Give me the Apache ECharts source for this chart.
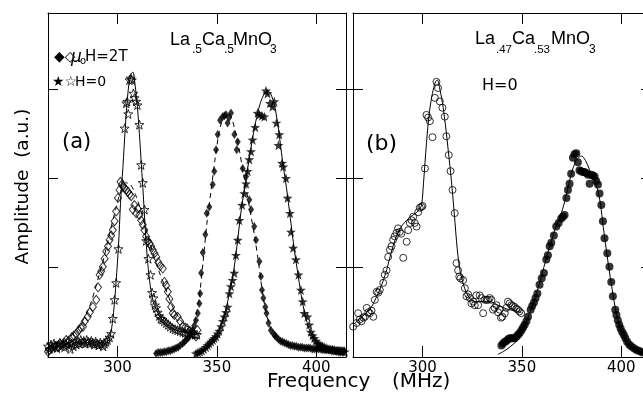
<!DOCTYPE html>
<html>
<head>
<meta charset="utf-8">
<script src="https://cdn.jsdelivr.net/npm/echarts@6.0.0/dist/echarts.min.js"></script>
<style>
  html, body { margin: 0; padding: 0; background: #fff; }
  #chart { width: 643px; height: 395px; }
</style>
</head>
<body>
<div id="chart"></div>
<script>
// tick positions
const xTicks = [300, 350, 400];
const yTicks = [1, 2, 3];

// ---- panel (a) La.5Ca.5MnO3 ----
// mu0 H = 2T, open diamonds (low line)
const diamondsOpen = [[265,0.06],[265.8,0.08],[267,0.10],[268.5,0.12],[270,0.11],[271.5,0.14],[273,0.16],[274.2,0.19],[275.5,0.18],[277,0.22],[278,0.24],[279.2,0.26],[280.5,0.30],[281.5,0.33],[282.6,0.34],[283.5,0.40],[285,0.45],[286,0.50],[287.6,0.56],[289.3,0.64],[290.2,0.78],[291,0.92],[291.8,0.96],[292.6,1.01],[293.5,1.10],[294.3,1.18],[295.2,1.24],[296,1.31],[296.8,1.36],[297.6,1.42],[298.5,1.52],[299.3,1.63],[300.2,1.78],[301,1.87],[301.5,1.96],[302.2,1.93],[302.7,1.91],[303.5,1.89],[304.4,1.87],[305.2,1.85],[306,1.82],[306.9,1.80],[307.7,1.65],[308.5,1.70],[309.4,1.61],[310.2,1.66],[311,1.59],[311.9,1.53],[312.7,1.48],[313.5,1.42],[314.4,1.35],[315.2,1.30],[316.1,1.27],[316.9,1.24],[317.7,1.20],[318.6,1.16],[319.5,1.12],[320.5,1.06],[321.5,1.02],[322.8,0.99],[323.6,0.84],[324.5,0.80],[325.3,0.73],[326.1,0.65],[327,0.56],[327.8,0.49],[328.6,0.47],[330.3,0.45],[331.5,0.40],[332.8,0.34],[334,0.33],[335,0.32],[336.5,0.29],[337.8,0.26],[339.5,0.23],[340.2,0.30]];
// mu0 H = 2T, filled diamonds (high line)
const diamondsFilled = [[319.4,0.04],[320.5,0.05],[321.5,0.05],[322.5,0.05],[323.5,0.06],[324.5,0.06],[325.5,0.07],[326.5,0.07],[327.5,0.08],[328.5,0.09],[329.5,0.10],[330.5,0.11],[331.5,0.13],[332.8,0.15],[333.7,0.17],[334.5,0.19],[335.4,0.21],[336.2,0.23],[337,0.26],[337.8,0.30],[338.6,0.35],[339.5,0.41],[340.4,0.49],[341.2,0.60],[341.6,0.71],[342.1,0.94],[342.9,1.17],[344.2,1.37],[344.9,1.61],[346.2,1.68],[347.9,1.93],[348.7,2.08],[349.6,2.32],[350.4,2.49],[351.6,2.65],[352.9,2.69],[353.8,2.70],[354.6,2.71],[355.4,2.62],[356.2,2.68],[357.1,2.73],[358.8,2.49],[360,2.32],[360.5,2.41],[363,2.11],[364.7,2.02],[366.3,1.76],[367.2,1.65],[368.8,1.46],[369.7,1.31],[371.4,1.07],[372.2,0.90],[372.7,0.75],[373.4,0.66],[374.4,0.56],[375,0.49],[376,0.38],[377.2,0.30],[378.5,0.26],[379.2,0.24],[380,0.22],[381,0.20],[382,0.18],[383,0.17],[384,0.16],[385,0.15],[386,0.14],[387,0.13],[388,0.13],[389,0.12],[390,0.12],[391,0.11],[392,0.11],[393,0.11],[394,0.10],[395,0.10],[396,0.10],[397,0.10],[398,0.09],[399,0.09],[400,0.09],[401,0.09],[402,0.09],[403,0.08],[404,0.08],[405,0.08],[406,0.08],[407,0.08],[408,0.08],[409,0.08],[410,0.07],[411,0.07],[412,0.07],[413,0.07],[414,0.07]];
// H = 0, open stars (low line)
const starsOpen = [[265,0.12],[265.7,0.09],[266.5,0.14],[267.3,0.11],[268,0.15],[268.8,0.12],[269.5,0.10],[270.3,0.14],[271,0.16],[271.8,0.12],[272.5,0.14],[273.3,0.11],[274,0.15],[274.8,0.17],[275.5,0.13],[276.3,0.09],[277,0.15],[277.8,0.12],[278.5,0.16],[279.3,0.14],[280,0.18],[280.8,0.15],[281.5,0.19],[282.3,0.16],[283,0.18],[283.8,0.15],[284.5,0.19],[285.3,0.17],[286,0.15],[286.8,0.18],[287.5,0.16],[288.3,0.14],[289,0.17],[289.8,0.15],[290.5,0.13],[291.3,0.16],[292,0.14],[292.8,0.12],[293.5,0.15],[294.3,0.17],[295,0.19],[296,0.22],[296.8,0.26],[297.6,0.43],[298.5,0.64],[299.3,0.83],[300.5,1.21],[303.6,2.56],[304.4,2.84],[304.9,2.86],[305.4,2.72],[306,3.10],[306.6,3.12],[307.2,3.10],[308,2.95],[308.6,2.90],[309.4,2.86],[310,2.82],[311,2.60],[311.9,2.15],[312.7,1.95],[313.6,1.65],[314.4,1.30],[315.5,1.10],[316.6,0.92],[317.4,0.72],[318.1,0.66],[318.8,0.58],[319.4,0.55],[320.2,0.50],[321,0.46],[321.8,0.43],[322.6,0.42],[323.5,0.40],[324.5,0.38],[325.5,0.36],[326.5,0.34],[327.8,0.32],[329,0.31],[330.2,0.30],[331.5,0.29],[332.8,0.28],[334,0.27],[335.3,0.27],[336.5,0.26],[337.8,0.26],[339,0.25],[340,0.25]];
// H = 0, filled stars (high line)
const starsFilled = [[339.5,0.04],[340.5,0.05],[341.5,0.06],[342.5,0.07],[343.5,0.09],[344.5,0.11],[345.4,0.13],[346.2,0.15],[347.1,0.17],[348,0.19],[348.8,0.21],[349.6,0.23],[350.4,0.26],[351.2,0.29],[352.1,0.34],[353,0.40],[353.8,0.45],[354.6,0.50],[355.4,0.56],[356.3,0.71],[357.1,0.79],[357.9,0.86],[358.8,0.94],[359.6,1.14],[360.5,1.31],[361.3,1.53],[362.7,1.70],[363.8,1.83],[364.7,1.94],[365.5,2.08],[366.3,2.21],[367.2,2.30],[368,2.43],[369.3,2.57],[370.5,2.73],[371.4,2.71],[372.7,2.70],[373.9,2.69],[374.7,2.98],[375.5,2.95],[376.7,2.84],[378,2.80],[378.9,2.86],[380,2.62],[381,2.37],[381.4,2.49],[382.8,2.17],[383.4,2.13],[384.8,2.00],[385.6,1.78],[386.8,1.61],[387.3,1.40],[388.4,1.22],[389.8,1.09],[391.1,0.92],[392.3,0.75],[393.2,0.62],[394,0.49],[395.6,0.45],[396.5,0.36],[397.3,0.28],[398.2,0.24],[399,0.21],[399.8,0.18],[400.7,0.15],[401.5,0.14],[402.3,0.13],[403.2,0.12],[404.1,0.11],[405,0.10],[405.8,0.09],[406.5,0.09],[407.3,0.08],[408.2,0.08],[409,0.07],[410,0.07],[410.8,0.07],[411.6,0.07],[412.5,0.06],[413.4,0.06],[414.4,0.06]];
// fit curves of panel (a)
const fitDiamondsOpen = [[265,0.08],[270,0.12],[275,0.20],[280,0.32],[284,0.47],[287,0.63],[290,0.86],[293,1.10],[296,1.38],[299,1.65],[301.5,1.85],[304,1.95],[306.5,1.93],[309,1.82],[312,1.62],[315,1.38],[318,1.15],[321,0.95],[324,0.78],[327,0.60],[330,0.47],[333,0.38],[336,0.33],[339,0.30]];
const fitDiamondsFilled = [[319,0.04],[325,0.06],[330,0.10],[334,0.17],[337,0.27],[339,0.40],[341,0.65],[343,1.05],[345,1.50],[347,1.85],[349,2.20],[351,2.50],[353,2.67],[355,2.73],[357,2.70],[359,2.55],[361,2.35],[363,2.10],[365,1.85],[367,1.60],[369,1.35],[371,1.05],[373,0.72],[375,0.48],[377,0.32],[379,0.24],[382,0.18],[386,0.14],[392,0.11],[400,0.09],[415,0.07]];
const fitStarsOpen = [[292,0.14],[295,0.17],[296.5,0.25],[298,0.50],[299.3,0.85],[300.5,1.25],[301.5,1.72],[302.7,2.12],[304,2.60],[305.2,2.95],[306.5,3.15],[307.7,3.19],[308.8,3.05],[310,2.80],[311,2.50],[312,2.15],[313,1.80],[314,1.42],[315,1.10],[316,0.88],[317,0.72],[318,0.62],[319.5,0.53],[321,0.46],[323,0.41],[325.5,0.36],[328,0.32],[331,0.29],[335,0.27],[340,0.25]];
const fitStarsFilled = [[339,0.04],[343,0.08],[347,0.16],[350,0.25],[352,0.34],[354,0.48],[356,0.68],[358,0.90],[360,1.22],[362,1.60],[364,1.90],[366,2.18],[368,2.45],[370,2.68],[372,2.85],[374,2.95],[375.5,2.98],[377,2.95],[379,2.82],[381,2.55],[383,2.20],[385,1.90],[387,1.55],[389,1.20],[391,0.90],[393,0.62],[395,0.42],[397,0.28],[399,0.20],[401,0.15],[404,0.11],[408,0.08],[415,0.06]];

// ---- panel (b) La.47Ca.53MnO3, H = 0 ----
const circlesOpen = [[265.1,0.34],[266.8,0.38],[267.6,0.49],[268.4,0.42],[269.3,0.40],[270.2,0.44],[271,0.45],[271.9,0.55],[272.7,0.50],[273.5,0.49],[274.3,0.52],[275.2,0.45],[276,0.64],[276.9,0.73],[277.7,0.72],[278.5,0.75],[280.2,0.83],[281,0.92],[281.9,0.97],[282.7,1.12],[283.6,1.20],[284.4,1.24],[285.2,1.31],[286,1.35],[286.9,1.39],[287.7,1.44],[288.5,1.40],[289.3,1.38],[290.3,1.11],[292,1.29],[292.8,1.42],[293.6,1.50],[294.5,1.53],[295.3,1.57],[296.1,1.50],[297,1.46],[297.8,1.62],[298.6,1.67],[299.4,1.68],[300,1.69],[301.2,2.11],[302,2.71],[302.8,2.68],[303.7,2.64],[305,2.46],[306.2,2.90],[307,3.08],[307.8,3.01],[308.7,2.86],[310,2.79],[311.2,2.69],[312,2.47],[313.2,2.26],[314.1,2.08],[315.1,1.87],[316.2,1.61],[317.1,1.05],[317.9,0.97],[318.5,0.90],[319.1,0.88],[320.4,0.86],[321.3,0.77],[322.1,0.68],[323,0.70],[323.8,0.66],[324.6,0.60],[325.5,0.62],[326.3,0.58],[327.1,0.69],[328,0.58],[328.8,0.69],[329.6,0.66],[330.5,0.49],[331.3,0.64],[332.2,0.64],[333,0.64],[333.8,0.66],[334.7,0.64],[335.5,0.53],[336.3,0.55],[337.2,0.58],[338,0.50],[338.8,0.53],[339.5,0.44],[340.2,0.45],[341.4,0.49],[342.2,0.55],[343,0.62],[343.8,0.60],[344.7,0.58],[345.5,0.57],[346.4,0.56],[347.2,0.54],[348,0.53],[348.8,0.51],[349.7,0.49]];
const circlesFilled = [[339.7,0.13],[340.5,0.15],[341.4,0.17],[342.2,0.18],[343.1,0.20],[343.9,0.21],[344.7,0.21],[345.6,0.21],[346.4,0.21],[347.3,0.23],[348.1,0.25],[348.9,0.27],[349.8,0.30],[350.6,0.33],[351.4,0.36],[352.3,0.40],[353.1,0.45],[354.4,0.53],[355.2,0.57],[356.1,0.61],[356.9,0.66],[357.8,0.71],[358.9,0.81],[360,0.88],[361.1,0.94],[362.3,1.09],[363.1,1.14],[364,1.24],[364.8,1.28],[366.1,1.36],[367.3,1.46],[368.5,1.50],[369.8,1.55],[370.6,1.57],[371.5,1.59],[372.4,1.78],[373.2,1.87],[374,1.94],[374.8,2.05],[375.7,2.23],[376.5,2.27],[377.4,2.28],[378.2,2.18],[379,2.09],[379.8,2.08],[380.7,2.07],[381.5,2.07],[382.4,2.06],[383.3,2.04],[384.1,1.94],[384.9,2.04],[385.7,2.03],[386.6,2.02],[387.4,1.97],[388.3,1.93],[389.1,1.83],[390,1.70],[390.8,1.52],[391.6,1.33],[393,1.16],[394.1,1.01],[395,0.84],[395.8,0.68],[397,0.53],[397.6,0.47],[398.3,0.41],[399,0.36],[399.7,0.32],[400.5,0.28],[401.3,0.25],[402.1,0.21],[403,0.17],[404,0.14],[405,0.12],[406.2,0.10],[407.5,0.08],[408.7,0.07],[410,0.06],[411,0.05]];
const fitCirclesOpen = [[265,0.36],[268,0.42],[271,0.48],[274,0.55],[277,0.68],[280,0.84],[282,0.98],[284,1.15],[286,1.30],[288,1.41],[290,1.48],[292,1.53],[294,1.57],[296,1.60],[298,1.64],[299.5,1.70],[300.5,1.95],[302,2.40],[303.5,2.75],[305,2.95],[306.5,3.08],[307.5,3.10],[308.5,3.02],[310,2.85],[311.5,2.60],[313,2.30],[314.5,1.98],[316,1.60],[317.5,1.20],[319,0.95],[320.5,0.82],[322,0.72],[324,0.65],[326,0.62],[330,0.62],[334,0.62],[338,0.58],[342,0.54],[346,0.52],[349.7,0.50]];
const fitCirclesFilled = [[338,0.03],[342,0.08],[346,0.15],[349,0.22],[352,0.38],[355,0.55],[358,0.76],[361,1.00],[364,1.24],[367,1.45],[370,1.62],[372,1.78],[374,1.97],[376,2.13],[378,2.22],[380,2.25],[382,2.20],[384,2.10],[386,2.00],[388,1.88],[389.5,1.72],[391,1.45],[393,1.12],[395,0.82],[397,0.55],[399,0.35],[401,0.22],[404,0.12],[408,0.07],[412,0.04]];

const STAR = 'path://M0,-10L2.35,-3.24L9.51,-3.09L3.8,1.24L5.88,8.09L0,4L-5.88,8.09L-3.8,1.24L-9.51,-3.09L-2.35,-3.24Z';
const FONT = 'DejaVu Sans';

const chart = echarts.init(document.getElementById('chart'));

// o: { pos, line, labels, ticks, inside, len, hide }
function xAx(grid, o) {
  return {
    type: 'value', gridIndex: grid, position: o.pos, min: 265, max: 415, show: !o.hide,
    axisLine: { show: !!o.line, onZero: false, lineStyle: { color: '#000', width: 1 } },
    axisTick: { show: !!o.ticks, inside: !!o.inside, length: o.len || 11, customValues: xTicks, lineStyle: { color: '#000', width: 1 } },
    axisLabel: { show: !!o.labels, customValues: xTicks, margin: 4, color: '#000', fontSize: 15, fontFamily: FONT },
    splitLine: { show: false }
  };
}
function yAx(grid, o) {
  return {
    type: 'value', gridIndex: grid, position: o.pos, min: 0, max: 3.85, show: !o.hide,
    axisLine: { show: !!o.line, onZero: false, lineStyle: { color: '#000', width: 1 } },
    axisTick: { show: !!o.ticks, inside: !!o.inside, length: o.len || 10, customValues: yTicks, lineStyle: { color: '#000', width: 1 } },
    axisLabel: { show: false },
    splitLine: { show: false }
  };
}
function sc(data, g, symbol, size, filled) {
  return {
    type: 'scatter', xAxisIndex: g * 2, yAxisIndex: g * 2, data: data, symbol: symbol, symbolSize: size,
    itemStyle: filled ? { color: '#000' } : { color: 'rgba(0,0,0,0)', borderColor: '#000', borderWidth: 1 },
    silent: true, z: 3
  };
}
function ln(data, g, dashed) {
  return {
    type: 'line', xAxisIndex: g * 2, yAxisIndex: g * 2, data: data, showSymbol: false, symbol: 'none',
    smooth: 0.3, lineStyle: { color: '#000', width: 1, type: dashed ? [5, 4] : 'solid' }, silent: true, z: 2
  };
}
function txt(x, y, text, size, opts) {
  return {
    type: 'text', x: x, y: y, rotation: (opts && opts.rot) || 0,
    style: {
      text: text, fill: '#000', fontSize: size, fontFamily: (opts && opts.family) || FONT,
      fontStyle: (opts && opts.italic) ? 'italic' : 'normal',
      align: (opts && opts.align) || 'left', verticalAlign: 'middle'
    }
  };
}

const LIB = { family: 'Liberation Sans' };

// grids 0/1 are the two panels; grids 2-5 are helper grids whose outward
// ticks land on the inner side of the panels' left and bottom edges
const grids = [
  { left: 48, top: 13, width: 298, height: 344 },
  { left: 353, top: 13, width: 298, height: 344 },
  { left: 58, top: 13, width: 100, height: 344 },
  { left: 48, top: 13, width: 298, height: 333 },
  { left: 363, top: 13, width: 100, height: 344 },
  { left: 353, top: 13, width: 298, height: 333 }
].map(function (g) { g.outerBoundsMode = 'none'; return g; });

const xAxes = [
  xAx(0, { pos: 'bottom', line: true, labels: true }),
  xAx(0, { pos: 'top', line: true, ticks: true, inside: true }),
  xAx(1, { pos: 'bottom', line: true, labels: true }),
  xAx(1, { pos: 'top', line: true, ticks: true, inside: true }),
  xAx(2, { pos: 'bottom', hide: true }),
  xAx(3, { pos: 'bottom', ticks: true, inside: false, len: 11 }),
  xAx(4, { pos: 'bottom', hide: true }),
  xAx(5, { pos: 'bottom', ticks: true, inside: false, len: 11 })
];
const yAxes = [
  yAx(0, { pos: 'left', line: true }),
  yAx(0, { pos: 'right', line: true, ticks: true, inside: true }),
  yAx(1, { pos: 'left', line: true, ticks: true, inside: false, len: 7 }),
  yAx(1, { pos: 'right', line: true, ticks: true, inside: true }),
  yAx(2, { pos: 'left', ticks: true, inside: false, len: 10 }),
  yAx(3, { pos: 'left', hide: true }),
  yAx(4, { pos: 'left', ticks: true, inside: false, len: 10 }),
  yAx(5, { pos: 'left', hide: true })
];

chart.setOption({
  animation: false,
  backgroundColor: '#fff',
  grid: grids,
  xAxis: xAxes,
  yAxis: yAxes,
  series: [
    ln(fitDiamondsOpen, 0, true), ln(fitDiamondsFilled, 0, true),
    ln(fitStarsOpen, 0, false), ln(fitStarsFilled, 0, false),
    sc(diamondsOpen, 0, 'diamond', [7, 9], false),
    sc(starsOpen, 0, STAR, 9, false),
    sc(diamondsFilled, 0, 'diamond', [6, 9], true),
    sc(starsFilled, 0, STAR, 10, true),
    ln(fitCirclesOpen, 1, false), ln(fitCirclesFilled, 1, false),
    sc(circlesOpen, 1, 'circle', 7, false),
    sc(circlesFilled, 1, 'circle', 8, true)
  ],
  graphic: [
    // panel (a) formula
    txt(170, 40, 'La', 18, LIB), txt(192, 50, '.5', 12, LIB), txt(202, 40, 'Ca', 18, LIB),
    txt(224, 50, '.5', 12, LIB), txt(233, 40, 'MnO', 18, LIB), txt(270, 50, '3', 12, LIB),
    // legend
    txt(54, 57, '\u25C6\u25C7', 14), txt(71, 58, '\u03BC', 17, { italic: true }), txt(80, 61, 'o', 10),
    txt(85, 57, 'H=2T', 15),
    txt(52, 82, '\u2605\u2606', 14), txt(75, 82.5, 'H=0', 14),
    txt(62, 143, '(a)', 21),
    // panel (b)
    txt(475, 39.5, 'La', 18, LIB), txt(496, 50, '.47', 11.5, LIB), txt(512, 39.5, 'Ca', 18, LIB),
    txt(534, 50, '.53', 11.5, LIB), txt(551, 39.5, 'MnO', 18, LIB), txt(589, 50, '3', 12, LIB),
    txt(482, 86, 'H=0', 16),
    txt(366, 144, '(b)', 22),
    // axis titles
    txt(267, 382, 'Frequency', 20), txt(392, 382, '(MHz)', 20),
    txt(23, 186.5, 'Amplitude  (a.u.)', 18.5, { rot: Math.PI / 2, align: 'center' })
  ]
});
</script>
</body>
</html>
